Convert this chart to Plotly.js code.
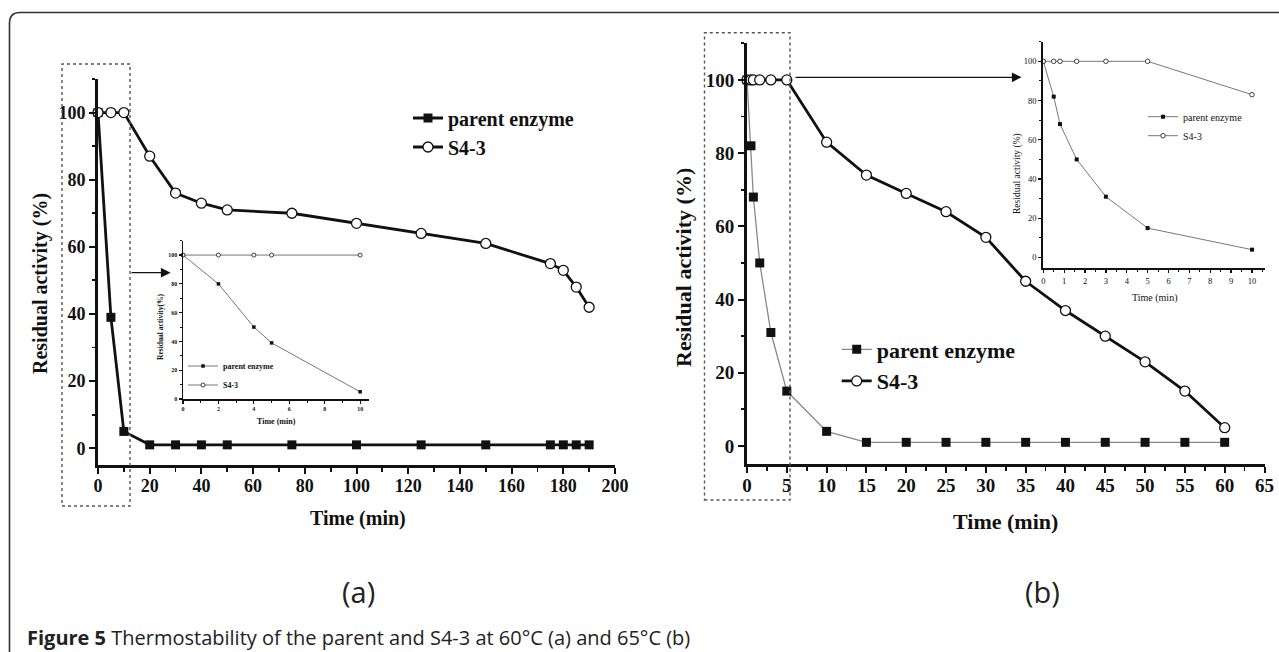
<!DOCTYPE html>
<html>
<head>
<meta charset="utf-8">
<script src="https://cdn.plot.ly/plotly-3.0.1.min.js"></script>
<style>
  html, body { margin: 0; padding: 0; background: #fff; }
  #chart { width: 1279px; height: 652px; }
</style>
</head>
<body>
<div id="chart"></div>
<script>
// ---------- Data ----------
// (a) 60 °C, main panel
const timeA    = [0, 5, 10, 20, 30, 40, 50, 75, 100, 125, 150, 175, 180, 185, 190];
const parentA  = [100, 39, 5, 1, 1, 1, 1, 1, 1, 1, 1, 1, 1, 1, 1];
const s43A     = [100, 100, 100, 87, 76, 73, 71, 70, 67, 64, 61, 55, 53, 48, 42];
// (a) inset, first 10 min
const timeAIn   = [0, 2, 4, 5, 10];
const parentAIn = [100, 80, 50, 39, 5];
const s43AIn    = [100, 100, 100, 100, 100];
// (b) 65 °C, main panel
const timeB    = [0, 0.5, 0.8, 1.6, 3, 5, 10, 15, 20, 25, 30, 35, 40, 45, 50, 55, 60];
const parentB  = [100, 82, 68, 50, 31, 15, 4, 1, 1, 1, 1, 1, 1, 1, 1, 1, 1];
const s43B     = [100, 100, 100, 100, 100, 100, 83, 74, 69, 64, 57, 45, 37, 30, 23, 15, 5];
// (b) inset, first 10 min
const timeBIn   = [0, 0.5, 0.8, 1.6, 3, 5, 10];
const parentBIn = [100, 82, 68, 50, 31, 15, 4];
const s43BIn    = [100, 100, 100, 100, 100, 100, 83];

const seriesNames = ['parent enzyme', 'S4-3'];
const axisTitleY = 'Residual activity (%)';
const axisTitleYInsetA = 'Residual activity(%)';
const axisTitleX = 'Time (min)';
const panelLabels = ['(a)', '(b)'];
const captionBold = 'Figure 5';
const captionText = ' Thermostability of the parent and S4-3 at 60°C (a) and 65°C (b)';

// ---------- Layout helpers ----------
const W = 1279, H = 652;
const fx = p => p / W;
const fy = p => 1 - p / H;
const SERIF = 'Liberation Serif, Times New Roman, serif';
const SANS = 'Open Sans, Noto Sans, sans-serif';
const INK = '#111111';

function bold(size) { return { family: SERIF, size: size, color: INK, weight: 'bold' }; }
function reg(size) { return { family: SERIF, size: size, color: INK }; }

function axisBase(extra) {
  return Object.assign({
    showgrid: false, zeroline: false, showline: true, linecolor: INK,
    ticks: 'outside', tickcolor: INK, fixedrange: true
  }, extra);
}

function label(px, py, text, font, angle) {
  return { xref: 'paper', yref: 'paper', x: fx(px), y: fy(py), xanchor: 'center', yanchor: 'middle',
           text: text, textangle: angle || 0, showarrow: false, font: font };
}

// ---------- Traces ----------
const sqMain = (size) => ({ symbol: 'square', size: size, color: INK, line: { width: 0 } });
const ciMain = (size, lw) => ({ symbol: 'circle', size: size, color: '#ffffff', line: { color: INK, width: lw } });

const traces = [
  // (a) main
  { x: timeA, y: parentA, name: seriesNames[0], xaxis: 'x', yaxis: 'y', legend: 'legend',
    mode: 'lines+markers', line: { color: INK, width: 2.8 }, marker: sqMain(9), cliponaxis: false },
  { x: timeA, y: s43A, name: seriesNames[1], xaxis: 'x', yaxis: 'y', legend: 'legend',
    mode: 'lines+markers', line: { color: INK, width: 2.8 }, marker: ciMain(10, 1.3), cliponaxis: false },
  // (a) inset
  { x: timeAIn, y: parentAIn, name: seriesNames[0], xaxis: 'x2', yaxis: 'y2', legend: 'legend2',
    mode: 'lines+markers', line: { color: '#777777', width: 1 }, marker: sqMain(3.5), cliponaxis: false },
  { x: timeAIn, y: s43AIn, name: seriesNames[1], xaxis: 'x2', yaxis: 'y2', legend: 'legend2',
    mode: 'lines+markers', line: { color: '#777777', width: 1 }, marker: ciMain(4, 0.8), cliponaxis: false },
  // (b) main
  { x: timeB, y: parentB, name: seriesNames[0], xaxis: 'x3', yaxis: 'y3', legend: 'legend3',
    mode: 'lines+markers', line: { color: '#888888', width: 1.3 }, marker: sqMain(9), cliponaxis: false },
  { x: timeB, y: s43B, name: seriesNames[1], xaxis: 'x3', yaxis: 'y3', legend: 'legend3',
    mode: 'lines+markers', line: { color: INK, width: 2.8 }, marker: ciMain(10, 1.3), cliponaxis: false },
  // (b) inset
  { x: timeBIn, y: parentBIn, name: seriesNames[0], xaxis: 'x4', yaxis: 'y4', legend: 'legend4',
    mode: 'lines+markers', line: { color: '#777777', width: 1 }, marker: sqMain(4), cliponaxis: false },
  { x: timeBIn, y: s43BIn, name: seriesNames[1], xaxis: 'x4', yaxis: 'y4', legend: 'legend4',
    mode: 'lines+markers', line: { color: '#777777', width: 1 }, marker: ciMain(4.5, 0.8), cliponaxis: false }
];

// ---------- Axes ----------
const layout = {
  width: W, height: H,
  margin: { l: 0, r: 0, t: 0, b: 0, pad: 0 },
  paper_bgcolor: '#ffffff', plot_bgcolor: 'rgba(0,0,0,0)',
  showlegend: true,
  font: { family: SERIF, color: INK },

  xaxis: axisBase({ domain: [fx(98), fx(615)], range: [0, 200], anchor: 'y',
    dtick: 20, tick0: 0, linewidth: 3, ticklen: 6, tickwidth: 2, tickfont: bold(18), ticklabelstandoff: -4,
    minor: { dtick: 10, ticklen: 3.5, tickwidth: 1.8, tickcolor: INK, ticks: 'outside' } }),
  yaxis: axisBase({ domain: [fy(465), fy(79)], range: [-5, 110], anchor: 'x',
    dtick: 20, tick0: 0, linewidth: 3, ticklen: 6, tickwidth: 2, tickfont: bold(18),
    minor: { dtick: 10, ticklen: 3.5, tickwidth: 1.8, tickcolor: INK, ticks: 'outside' } }),

  xaxis2: axisBase({ domain: [fx(183), fx(369)], range: [0, 10.5], anchor: 'y2',
    dtick: 2, tick0: 0, linewidth: 1.5, ticklen: 3, tickwidth: 1.2, tickfont: bold(6),
    minor: { dtick: 1, ticklen: 2, tickwidth: 1, tickcolor: INK, ticks: 'outside' } }),
  yaxis2: axisBase({ domain: [fy(399), fy(240.7)], range: [0, 110], anchor: 'x2',
    dtick: 20, tick0: 0, linewidth: 1.5, ticklen: 3, tickwidth: 1.2, tickfont: bold(6),
    minor: { dtick: 10, ticklen: 2, tickwidth: 1, tickcolor: INK, ticks: 'outside' } }),

  xaxis3: axisBase({ domain: [fx(747), fx(1264.5)], range: [0, 65], anchor: 'y3',
    dtick: 5, tick0: 0, linewidth: 3, ticklen: 6, tickwidth: 2, tickfont: bold(19), ticklabelstandoff: -4,
    minor: { dtick: 2.5, ticklen: 3.5, tickwidth: 1.8, tickcolor: INK, ticks: 'outside' } }),
  yaxis3: axisBase({ domain: [fy(464.3), fy(43.3)], range: [-5, 110], anchor: 'x3',
    dtick: 20, tick0: 0, linewidth: 3, ticklen: 6, tickwidth: 2, tickfont: bold(19),
    minor: { dtick: 10, ticklen: 3.5, tickwidth: 1.8, tickcolor: INK, ticks: 'outside' } }),

  xaxis4: axisBase({ domain: [fx(1043.3), fx(1264.5)], range: [0, 10.6], anchor: 'y4',
    dtick: 1, tick0: 0, linewidth: 2, ticklen: 3, tickwidth: 1.3, tickfont: reg(8.5),
    minor: { dtick: 0.5, ticklen: 2, tickwidth: 1, tickcolor: INK, ticks: 'outside' } }),
  yaxis4: axisBase({ domain: [fy(268.3), fy(41.7)], range: [-5.5, 110], anchor: 'x4',
    dtick: 20, tick0: 0, linewidth: 2, ticklen: 3, tickwidth: 1.3, tickfont: reg(8.5),
    minor: { dtick: 10, ticklen: 2, tickwidth: 1, tickcolor: INK, ticks: 'outside' } }),

  // ---------- Legends ----------
  legend:  { x: fx(408), y: fy(98.5), xanchor: 'left', yanchor: 'top', bgcolor: 'rgba(0,0,0,0)',
             borderwidth: 0, font: bold(20), traceorder: 'normal' },
  legend2: { x: fx(183), y: fy(351.5), xanchor: 'left', yanchor: 'top', bgcolor: 'rgba(0,0,0,0)',
             borderwidth: 0, font: bold(8), traceorder: 'normal' },
  legend3: { x: fx(836.7), y: fy(328.5), xanchor: 'left', yanchor: 'top', bgcolor: 'rgba(0,0,0,0)',
             borderwidth: 0, font: bold(22), traceorder: 'normal' },
  legend4: { x: fx(1143), y: fy(102.2), xanchor: 'left', yanchor: 'top', bgcolor: 'rgba(0,0,0,0)',
             borderwidth: 0, font: reg(10), traceorder: 'normal' },

  // ---------- Decorations ----------
  shapes: [
    // outer frame (rounded top-left corner)
    { type: 'path', xref: 'paper', yref: 'paper',
      path: `M ${fx(9.5)},${fy(652)} L ${fx(9.5)},${fy(23)} Q ${fx(9.5)},${fy(12.5)} ${fx(20)},${fy(12.5)} L ${fx(1279)},${fy(12.5)}`,
      line: { color: '#333333', width: 1.6 } },
    // dotted zoom boxes
    { type: 'rect', xref: 'paper', yref: 'paper', x0: fx(62), x1: fx(130), y0: fy(506), y1: fy(64),
      line: { color: '#555555', width: 1.4, dash: 'dot' } },
    { type: 'rect', xref: 'paper', yref: 'paper', x0: fx(704.5), x1: fx(790), y0: fy(500), y1: fy(32.7),
      line: { color: '#555555', width: 1.4, dash: 'dot' } }
  ],

  annotations: [
    // arrows from the dotted boxes to the insets
    { xref: 'paper', yref: 'paper', x: fx(170.6), y: fy(272.7), ax: -40.6, ay: 0, text: '',
      showarrow: true, arrowhead: 2, arrowsize: 1.5, arrowwidth: 1.3, arrowcolor: INK },
    { xref: 'paper', yref: 'paper', x: fx(1021.6), y: fy(77.3), ax: -227.6, ay: 0, text: '',
      showarrow: true, arrowhead: 2, arrowsize: 1.5, arrowwidth: 1.3, arrowcolor: INK },

    // axis titles (a)
    label(41, 284, axisTitleY, bold(20), -90),
    label(358, 518, axisTitleX, bold(20)),
    // inset (a)
    label(160, 327, axisTitleYInsetA, bold(7.5), -90),
    label(276.5, 421.7, axisTitleX, bold(8)),

    // axis titles (b)
    label(683, 268, axisTitleY, bold(22), -90),
    label(1005, 521.7, axisTitleX, bold(22)),
    // inset (b)
    label(1017, 174, axisTitleY, reg(9.5), -90),
    label(1154, 298, axisTitleX, reg(10)),

    // panel labels
    label(358, 591, panelLabels[0], { family: SANS, size: 29, color: '#222222' }),
    label(1042, 591, panelLabels[1], { family: SANS, size: 29, color: '#222222' }),

    // caption
    { xref: 'paper', yref: 'paper', x: fx(25), y: fy(637), xanchor: 'left', yanchor: 'middle',
      text: '<b>' + captionBold + '</b>' + captionText,
      showarrow: false, font: { family: SANS, size: 20, color: '#222222' } }
  ]
};

Plotly.newPlot('chart', traces, layout, { staticPlot: true, displayModeBar: false });
</script>
</body>
</html>
